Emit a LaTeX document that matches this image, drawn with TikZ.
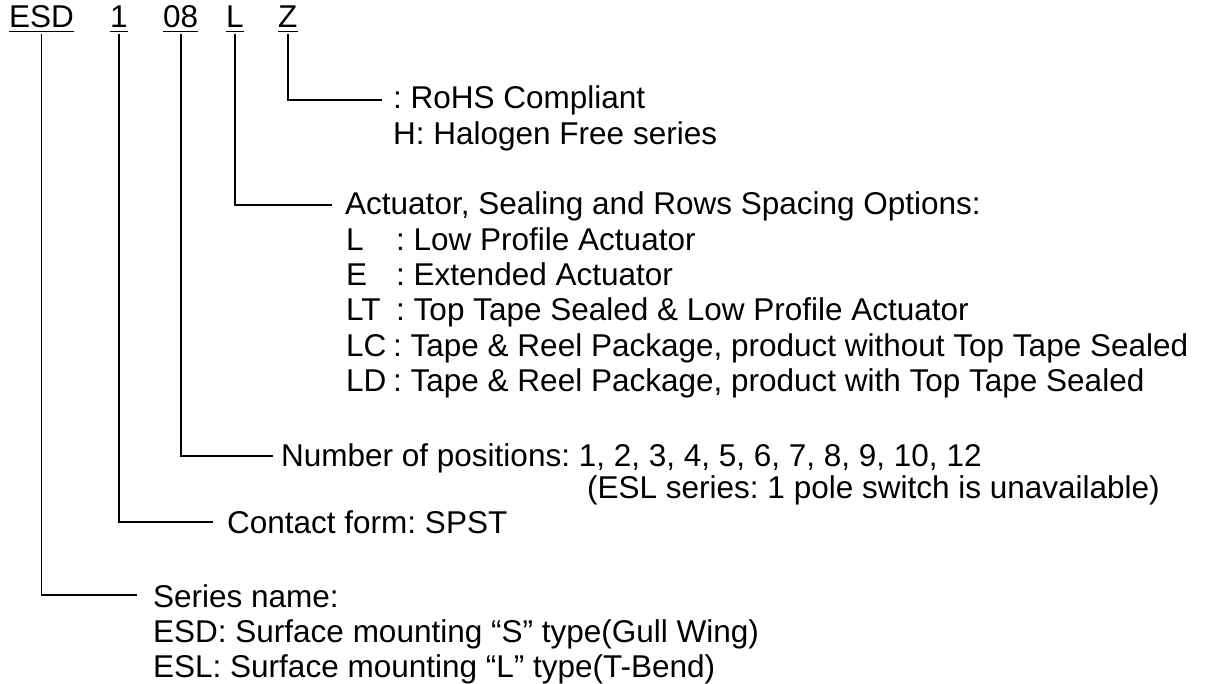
\documentclass[tikz,border=0pt]{standalone}
\usepackage{fontspec}
\setmainfont{Liberation Sans}
\frenchspacing
\begin{document}
\begin{tikzpicture}[x=1pt,y=-1pt,
  txt/.style={anchor=base west,inner sep=0pt,font=\fontsize{31.5}{36}\selectfont\frenchspacing},
  code/.style={anchor=base west,inner sep=0pt,font=\fontsize{31.5}{36}\selectfont},
  wire/.style={line width=1.6pt},
  uline/.style={line width=1.6pt}]
\useasboundingbox (0,0) rectangle (1211,684);
% code row
\node[code] (cesd) at (9,28) {ESD};
\node[code] (cone) at (110,28) {1};
\node[code] (cpos) at (163,28) {08};
\node[code] (cact) at (226,28) {L};
\node[code] (cz) at (278,28) {Z};
\foreach \n in {cesd,cone,cpos,cact,cz}{
  \draw[uline] ([yshift=-3.5pt]\n.base west) -- ([yshift=-3.5pt]\n.base east);
}
% Z
\node[txt] (rohs) at (393,109) {: RoHS Compliant};
\node[txt] (halo) at (393,145) {H: Halogen Free series};
% L
\node[txt] (act) at (345,215) {Actuator, Sealing and Rows Spacing Options:};
\node[txt] (o1) at (346,251) {\makebox[50pt][l]{L}: Low Profile Actuator};
\node[txt] (o2) at (346,286) {\makebox[50pt][l]{E}: Extended Actuator};
\node[txt] (o3) at (346,321) {\makebox[50pt][l]{LT}: Top Tape Sealed \& Low Profile Actuator};
\node[txt] (o4) at (346,357) {\makebox[47pt][l]{LC}: Tape \& Reel Package, product without Top Tape Sealed};
\node[txt] (o5) at (346,392) {\makebox[47pt][l]{LD}: Tape \& Reel Package, product with Top Tape Sealed};
% positions
\node[txt] (num) at (281,467) {Number of positions: 1, 2, 3, 4, 5, 6, 7, 8, 9, 10, 12};
\node[txt] (esl) at (587,499) {(ESL series: 1 pole switch is unavailable)};
% contact
\node[txt] (con) at (227,533) {Contact form: SPST};
% series
\node[txt] (ser) at (153,607) {Series name:};
\node[txt] (s1) at (153,642) {ESD: Surface mounting “S” type(Gull Wing)};
\node[txt] (s2) at (153,677) {ESL: Surface mounting “L” type(T-Bend)};
% connectors
\draw[wire,shorten >=11pt] ([yshift=-6pt]cz.base) |- ([yshift=9pt]rohs.base west);
\draw[wire,shorten >=13pt] ([yshift=-6pt]cact.base) |- ([yshift=10pt]act.base west);
\draw[wire,shorten >=8pt] ([yshift=-6pt]cpos.base) |- ([yshift=11pt]num.base west);
\draw[wire,shorten >=14pt] ([yshift=-6pt]cone.base) |- ([yshift=11pt]con.base west);
\draw[wire,shorten >=16pt] ([yshift=-6pt]cesd.base) |- ([yshift=12pt]ser.base west);
\end{tikzpicture}
\end{document}
